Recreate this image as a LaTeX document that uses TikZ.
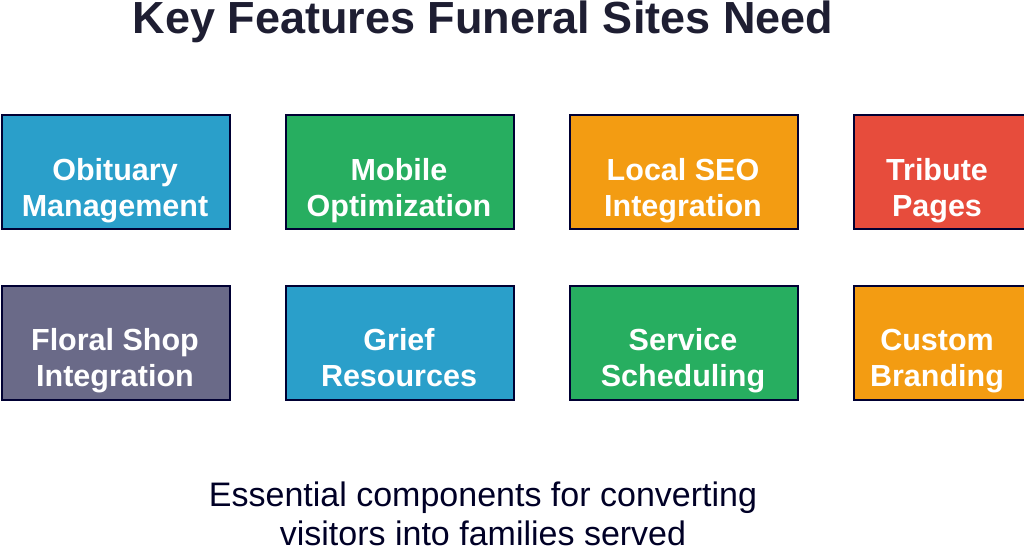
\documentclass[tikz,border=0pt]{standalone}
\usepackage{fontspec}
\setmainfont{Liberation Sans}
\begin{document}
\begin{tikzpicture}[x=1pt,y=-1pt,
  feat/.style={draw=black!80!blue,line width=1.5pt,minimum width=228pt,minimum height=114pt,anchor=north west,inner sep=0pt},
  lbl/.style={text=white,font=\bfseries\fontsize{30.5}{36}\selectfont,align=center,inner sep=0pt}]
\useasboundingbox (0,0) rectangle (1024,550);
\definecolor{cblue}{HTML}{2A9FCA}
\definecolor{cgreen}{HTML}{27AE60}
\definecolor{corange}{HTML}{F39C12}
\definecolor{cred}{HTML}{E74C3C}
\definecolor{cgray}{HTML}{6A6A88}
\node (t) at (483,22) {\bfseries\fontsize{45}{50}\selectfont\color[HTML]{1E1E32}Key Features Funeral Sites Need};
\node[feat,fill=cblue] (a) at (1,114) {};
\node[feat,fill=cgreen] (b) at (285,114) {};
\node[feat,fill=corange] (c) at (569,114) {};
\node[feat,fill=cred] (d) at (853,114) {};
\node[feat,fill=cgray] (e) at (1,285) {};
\node[feat,fill=cblue] (f) at (285,285) {};
\node[feat,fill=cgreen] (g) at (569,285) {};
\node[feat,fill=corange] (h) at (853,285) {};
\node[lbl] (la) at (115,191) {Obituary\\Management};
\node[lbl] (lb) at (399,191) {Mobile\\Optimization};
\node[lbl] (lc) at (683,191) {Local SEO\\Integration};
\node[lbl] (ld) at (937,191) {Tribute\\Pages};
\node[lbl] (le) at (115,361) {Floral Shop\\Integration};
\node[lbl] (lf) at (399,358) {Grief\\Resources};
\node[lbl] (lg) at (683,361) {Service\\Scheduling};
\node[lbl] (lh) at (937,361) {Custom\\Branding};
\node[align=center,font=\fontsize{34}{39}\selectfont,text={black!85!blue}] (s) at (483,514) {Essential components for converting\\visitors into families served};
\end{tikzpicture}
\end{document}
